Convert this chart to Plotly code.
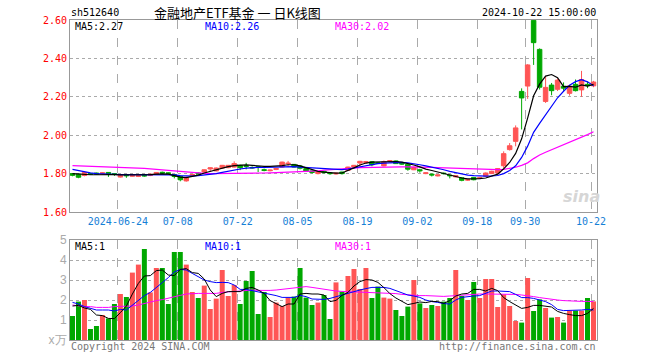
import plotly.graph_objects as go

# ---------------- data ----------------
dates = [
    "2024-06-12", "2024-06-13", "2024-06-14", "2024-06-17", "2024-06-18", "2024-06-19", "2024-06-20",
    "2024-06-21", "2024-06-24", "2024-06-25", "2024-06-26", "2024-06-27", "2024-06-28",
    "2024-07-01", "2024-07-02", "2024-07-03", "2024-07-04", "2024-07-05", "2024-07-08", "2024-07-09",
    "2024-07-10", "2024-07-11", "2024-07-12", "2024-07-15", "2024-07-16", "2024-07-17", "2024-07-18",
    "2024-07-19", "2024-07-22", "2024-07-23", "2024-07-24", "2024-07-25", "2024-07-26", "2024-07-29",
    "2024-07-30", "2024-07-31",
    "2024-08-01", "2024-08-02", "2024-08-05", "2024-08-06", "2024-08-07", "2024-08-08", "2024-08-09",
    "2024-08-12", "2024-08-13", "2024-08-14", "2024-08-15", "2024-08-16", "2024-08-19", "2024-08-20",
    "2024-08-21", "2024-08-22", "2024-08-23", "2024-08-26", "2024-08-27", "2024-08-28", "2024-08-29",
    "2024-08-30",
    "2024-09-02", "2024-09-03", "2024-09-04", "2024-09-05", "2024-09-06", "2024-09-09", "2024-09-10",
    "2024-09-11", "2024-09-12", "2024-09-13", "2024-09-18", "2024-09-19", "2024-09-20", "2024-09-23",
    "2024-09-24", "2024-09-25", "2024-09-26", "2024-09-27", "2024-09-30",
    "2024-10-08", "2024-10-09", "2024-10-10", "2024-10-11", "2024-10-14", "2024-10-15", "2024-10-16",
    "2024-10-17", "2024-10-18", "2024-10-21", "2024-10-22",
]

open_ = [1.800, 1.797, 1.790, 1.800, 1.803, 1.800, 1.806, 1.800, 1.782, 1.793,
         1.786, 1.785, 1.793, 1.790, 1.796, 1.807, 1.804, 1.795, 1.786, 1.762,
         1.790, 1.803, 1.808, 1.824, 1.814, 1.829, 1.831, 1.834, 1.843, 1.840,
         1.832, 1.836, 1.820, 1.815, 1.822, 1.834, 1.852, 1.848, 1.840, 1.826,
         1.814, 1.800, 1.812, 1.803, 1.798, 1.808, 1.817, 1.834, 1.855, 1.858,
         1.862, 1.856, 1.840, 1.864, 1.866, 1.854, 1.849, 1.820, 1.820, 1.800,
         1.797, 1.788, 1.802, 1.792, 1.783, 1.778, 1.766, 1.780, 1.775, 1.786,
         1.800, 1.803, 1.841, 1.925, 1.968, 2.228, 2.256, 2.598, 2.447, 2.176,
         2.261, 2.239, 2.255, 2.218, 2.265, 2.236, 2.265, 2.257]
high = [1.803, 1.799, 1.810, 1.803, 1.805, 1.808, 1.807, 1.801, 1.795, 1.794,
        1.792, 1.792, 1.795, 1.800, 1.808, 1.810, 1.806, 1.796, 1.787, 1.785,
        1.798, 1.806, 1.822, 1.832, 1.832, 1.845, 1.845, 1.864, 1.846, 1.856,
        1.838, 1.838, 1.826, 1.820, 1.828, 1.862, 1.866, 1.850, 1.845, 1.828,
        1.816, 1.812, 1.814, 1.805, 1.806, 1.810, 1.836, 1.845, 1.866, 1.866,
        1.865, 1.860, 1.868, 1.870, 1.868, 1.858, 1.852, 1.836, 1.825, 1.806,
        1.800, 1.795, 1.806, 1.795, 1.792, 1.780, 1.772, 1.782, 1.782, 1.806,
        1.815, 1.828, 1.916, 1.959, 2.051, 2.244, 2.370, 2.600, 2.452, 2.307,
        2.272, 2.296, 2.275, 2.262, 2.290, 2.335, 2.280, 2.283]
low = [1.786, 1.776, 1.786, 1.793, 1.796, 1.797, 1.783, 1.788, 1.780, 1.778,
       1.783, 1.782, 1.784, 1.787, 1.795, 1.800, 1.797, 1.775, 1.760, 1.758,
       1.788, 1.796, 1.805, 1.812, 1.812, 1.826, 1.828, 1.832, 1.818, 1.822,
       1.826, 1.808, 1.812, 1.812, 1.818, 1.832, 1.834, 1.832, 1.822, 1.808,
       1.800, 1.796, 1.800, 1.794, 1.795, 1.795, 1.815, 1.832, 1.834, 1.852,
       1.838, 1.850, 1.838, 1.860, 1.850, 1.846, 1.815, 1.818, 1.805, 1.797,
       1.785, 1.785, 1.795, 1.775, 1.780, 1.760, 1.762, 1.765, 1.772, 1.784,
       1.798, 1.800, 1.829, 1.920, 1.942, 2.030, 2.189, 2.366, 2.238, 2.168,
       2.208, 2.230, 2.232, 2.206, 2.228, 2.200, 2.245, 2.250]
close = [1.791, 1.781, 1.806, 1.797, 1.798, 1.804, 1.797, 1.796, 1.792, 1.789,
         1.790, 1.790, 1.788, 1.797, 1.806, 1.803, 1.801, 1.785, 1.768, 1.779,
         1.796, 1.798, 1.820, 1.830, 1.829, 1.843, 1.843, 1.852, 1.831, 1.838,
         1.830, 1.833, 1.817, 1.818, 1.826, 1.860, 1.854, 1.834, 1.828, 1.812,
         1.806, 1.810, 1.805, 1.800, 1.802, 1.800, 1.834, 1.843, 1.864, 1.862,
         1.846, 1.853, 1.862, 1.867, 1.852, 1.850, 1.823, 1.832, 1.815, 1.804,
         1.793, 1.793, 1.800, 1.789, 1.789, 1.765, 1.769, 1.768, 1.778, 1.803,
         1.812, 1.826, 1.904, 1.945, 2.038, 2.194, 2.366, 2.482, 2.250, 2.249,
         2.232, 2.287, 2.245, 2.256, 2.232, 2.290, 2.258, 2.277]

ma5 = [1.800, 1.797, 1.795, 1.794, 1.794, 1.795, 1.796, 1.795, 1.793, 1.793,
       1.792, 1.792, 1.793, 1.795, 1.797, 1.799, 1.797, 1.790, 1.782, 1.779,
       1.784, 1.792, 1.803, 1.812, 1.822, 1.830, 1.836, 1.842, 1.845, 1.845,
       1.843, 1.840, 1.838, 1.838, 1.839, 1.842, 1.846, 1.846, 1.840, 1.830,
       1.820, 1.812, 1.808, 1.804, 1.802, 1.803, 1.815, 1.830, 1.845, 1.855,
       1.860, 1.861, 1.862, 1.864, 1.863, 1.860, 1.853, 1.845, 1.835, 1.823,
       1.816, 1.808, 1.800, 1.792, 1.784, 1.777, 1.773, 1.772, 1.774, 1.777,
       1.786, 1.797, 1.825, 1.858, 1.905, 1.981, 2.089, 2.205, 2.266, 2.308,
       2.316, 2.300, 2.253, 2.254, 2.250, 2.262, 2.256, 2.265]
ma10 = [1.822, 1.815, 1.808, 1.804, 1.800, 1.798, 1.796, 1.795, 1.795, 1.795,
        1.795, 1.795, 1.794, 1.794, 1.795, 1.796, 1.796, 1.793, 1.789, 1.787,
        1.787, 1.789, 1.792, 1.796, 1.800, 1.806, 1.813, 1.819, 1.824, 1.828,
        1.831, 1.832, 1.832, 1.833, 1.834, 1.836, 1.836, 1.836, 1.834, 1.832,
        1.830, 1.828, 1.826, 1.824, 1.822, 1.821, 1.824, 1.830, 1.836, 1.842,
        1.848, 1.852, 1.855, 1.857, 1.858, 1.858, 1.856, 1.852, 1.846, 1.840,
        1.834, 1.828, 1.820, 1.812, 1.805, 1.798, 1.792, 1.789, 1.787, 1.787,
        1.788, 1.790, 1.800, 1.816, 1.841, 1.884, 1.943, 2.015, 2.062, 2.107,
        2.149, 2.195, 2.229, 2.260, 2.279, 2.289, 2.278, 2.258]
ma30 = [1.842, 1.841, 1.840, 1.839, 1.838, 1.837, 1.836, 1.835, 1.834, 1.833,
        1.831, 1.829, 1.827, 1.825, 1.822, 1.819, 1.816, 1.813, 1.810, 1.807,
        1.804, 1.802, 1.801, 1.800, 1.800, 1.800, 1.800, 1.800, 1.800, 1.801,
        1.801, 1.802, 1.803, 1.804, 1.805, 1.806, 1.806, 1.807, 1.808, 1.809,
        1.811, 1.814, 1.818, 1.821, 1.823, 1.825, 1.827, 1.829, 1.831, 1.832,
        1.833, 1.834, 1.834, 1.835, 1.835, 1.835, 1.835, 1.835, 1.834, 1.833,
        1.832, 1.831, 1.830, 1.829, 1.828, 1.826, 1.824, 1.822, 1.821, 1.821,
        1.821, 1.821, 1.822, 1.826, 1.833, 1.843, 1.856, 1.878, 1.897, 1.911,
        1.924, 1.937, 1.950, 1.962, 1.974, 1.988, 2.003, 2.018]

volume = [1.20, 1.92, 2.00, 0.55, 0.70, 1.25, 1.08, 1.80, 2.30, 2.15,
          3.37, 3.77, 4.55, 2.38, 3.60, 3.60, 1.80, 4.40, 4.40, 3.77,
          2.40, 2.10, 2.72, 1.55, 2.07, 3.50, 2.20, 2.75, 1.80, 2.95,
          3.45, 1.30, 2.40, 1.15, 1.87, 1.70, 2.12, 2.17, 3.60, 2.12,
          1.75, 1.87, 2.25, 1.05, 2.88, 2.42, 3.20, 3.55, 2.55, 3.60,
          2.10, 2.67, 2.12, 2.07, 1.50, 1.20, 1.67, 3.00, 1.83, 1.60,
          1.75, 1.70, 1.92, 2.10, 3.50, 2.20, 2.00, 2.90, 2.10, 3.05,
          3.05, 1.65, 2.28, 1.70, 0.95, 0.87, 3.10, 1.45, 2.03, 1.60,
          1.12, 1.15, 0.87, 1.47, 1.47, 1.47, 2.10, 1.93]
vma5 = [1.70, 1.73, 1.60, 1.53, 1.25, 1.22, 1.08, 1.07, 1.37, 1.70,
        2.30, 2.83, 3.20, 3.22, 3.47, 3.50, 3.25, 3.22, 3.53, 3.57,
        3.37, 3.33, 3.05, 2.50, 2.17, 2.33, 2.42, 2.42, 2.42, 2.58,
        2.63, 2.50, 2.33, 1.97, 1.80, 1.67, 1.80, 1.80, 2.30, 2.33,
        2.30, 2.30, 2.25, 1.92, 1.98, 2.23, 2.38, 2.70, 2.92, 3.02,
        3.00, 2.88, 2.62, 2.32, 2.10, 1.95, 1.77, 1.83, 1.90, 1.87,
        1.93, 1.92, 1.83, 1.97, 2.20, 2.30, 2.33, 2.53, 2.53, 2.45,
        2.58, 2.47, 2.12, 1.92, 1.77, 1.58, 1.63, 1.73, 1.73, 1.70,
        1.65, 1.43, 1.33, 1.27, 1.22, 1.22, 1.33, 1.58]
vma10 = [1.88, 1.80, 1.67, 1.57, 1.50, 1.50, 1.50, 1.45, 1.53, 1.50,
         1.75, 2.00, 2.22, 2.38, 2.65, 2.87, 3.12, 3.40, 3.53, 3.50,
         3.33, 3.17, 3.00, 2.92, 2.87, 2.88, 2.87, 2.75, 2.53, 2.53,
         2.47, 2.40, 2.35, 2.28, 2.22, 2.13, 2.13, 2.13, 2.23, 2.17,
         2.05, 2.03, 2.03, 2.08, 2.17, 2.23, 2.33, 2.42, 2.50, 2.57,
         2.63, 2.63, 2.63, 2.58, 2.47, 2.33, 2.25, 2.20, 2.13, 2.00,
         1.92, 1.88, 1.82, 1.80, 2.00, 2.13, 2.18, 2.20, 2.22, 2.33,
         2.45, 2.45, 2.45, 2.42, 2.28, 2.12, 2.12, 2.08, 2.00, 1.92,
         1.77, 1.53, 1.47, 1.47, 1.47, 1.50, 1.53, 1.50]
vma30 = [1.75, 1.70, 1.67, 1.67, 1.63, 1.63, 1.63, 1.67, 1.67, 1.68,
         1.70, 1.75, 1.83, 1.90, 1.97, 2.02, 2.08, 2.17, 2.23, 2.30,
         2.33, 2.33, 2.33, 2.33, 2.33, 2.38, 2.42, 2.43, 2.45, 2.47,
         2.50, 2.48, 2.47, 2.48, 2.50, 2.53, 2.57, 2.62, 2.65, 2.67,
         2.63, 2.58, 2.53, 2.47, 2.45, 2.43, 2.42, 2.40, 2.38, 2.38,
         2.37, 2.37, 2.35, 2.33, 2.32, 2.28, 2.25, 2.23, 2.22, 2.22,
         2.20, 2.18, 2.18, 2.20, 2.22, 2.23, 2.27, 2.30, 2.30, 2.30,
         2.30, 2.30, 2.30, 2.30, 2.28, 2.25, 2.22, 2.17, 2.12, 2.07,
         2.03, 2.00, 1.97, 1.95, 1.95, 1.93, 1.93, 1.92]

tick_dates = ["2024-06-24", "2024-07-08", "2024-07-22", "2024-08-05", "2024-08-19",
              "2024-09-02", "2024-09-18", "2024-09-30", "2024-10-22"]
tick_labels = ["2024-06-24", "07-08", "07-22", "08-05", "08-19", "09-02", "09-18", "09-30", "10-22"]
price_ticks = [1.60, 1.80, 2.00, 2.20, 2.40, 2.60]
vol_ticks = [0, 1, 2, 3, 4, 5]
vol_tick_labels = ["x万", "1", "2", "3", "4", "5"]

# ---------------- styling ----------------
RED = "#ff5555"
GREEN = "#00a800"
GRID = "#aaaaaa"
FRAME = "#999999"
MONO = "DejaVu Sans Mono, Liberation Mono, monospace"
OFF = 5.0 / 12.0  # gridline sits at the left edge of a bar slot

xs = list(range(len(dates)))
tickpos = [dates.index(d) - OFF for d in tick_dates]
vol_colors = [RED if c >= o else GREEN for o, c in zip(open_, close)]

fig = go.Figure()
fig.add_trace(go.Candlestick(
    x=xs, open=open_, high=high, low=low, close=close,
    increasing=dict(line=dict(color=RED, width=1), fillcolor=RED),
    decreasing=dict(line=dict(color=GREEN, width=1), fillcolor=GREEN),
    whiskerwidth=0, hoverinfo="skip", xaxis="x", yaxis="y"))
for arr, col in [(ma30, "#ff00ff"), (ma10, "#0000ff"), (ma5, "#000000")]:
    fig.add_trace(go.Scatter(x=xs, y=arr, mode="lines", line=dict(color=col, width=1.2),
                             hoverinfo="skip", xaxis="x", yaxis="y"))

fig.add_trace(go.Bar(x=xs, y=volume, marker=dict(color=vol_colors, line=dict(width=0)),
                     hoverinfo="skip", xaxis="x2", yaxis="y2"))
for arr, col in [(vma30, "#ff00ff"), (vma10, "#0000ff"), (vma5, "#000000")]:
    fig.add_trace(go.Scatter(x=xs, y=arr, mode="lines", line=dict(color=col, width=1),
                             hoverinfo="skip", xaxis="x2", yaxis="y2"))

xcommon = dict(range=[-OFF, len(dates) - OFF], tickvals=tickpos, showgrid=True,
               gridcolor=GRID, griddash="dash", gridwidth=1, zeroline=False,
               showline=True, mirror=True, linecolor=FRAME, linewidth=1, ticks="")

fig.update_layout(
    width=660, height=360,
    margin=dict(l=70, r=63, t=20, b=20),
    paper_bgcolor="white", plot_bgcolor="white",
    showlegend=False, bargap=1.0 / 6.0, boxgap=0.25, boxgroupgap=0,
    xaxis=dict(domain=[0, 1], anchor="y", ticktext=tick_labels,
               tickfont=dict(family=MONO, size=10, color="#1680d6"),
               rangeslider=dict(visible=False), **xcommon),
    yaxis=dict(domain=[0.4, 1.0], anchor="x", range=[1.6, 2.6], tickvals=price_ticks,
               ticktext=["%.2f" % v for v in price_ticks],
               tickfont=dict(family=MONO, size=10, color="#ff0000"),
               showgrid=True, gridcolor=GRID, griddash="dot", zeroline=False,
               showline=True, mirror=True, linecolor=FRAME, linewidth=1, ticks=""),
    xaxis2=dict(domain=[0, 1], anchor="y2", matches="x", showticklabels=False, **xcommon),
    yaxis2=dict(domain=[0.0, 0.3125], anchor="x2", range=[0, 5], tickvals=vol_ticks,
                ticktext=vol_tick_labels,
                tickfont=dict(family="Liberation Sans, Arial", size=12, color="#aaaaaa"),
                showgrid=True, gridcolor=GRID, griddash="dot", zeroline=False,
                showline=True, mirror=True, linecolor=FRAME, linewidth=1, ticks=""),
)


def px(x):
    return (x - 70) / 527.0


def py(y):
    return (340 - y) / 320.0


def label(text, x, y, color="#000000", anchor="left", size=10, family=MONO, **kw):
    fig.add_annotation(text=text, x=px(x), y=py(y), xref="paper", yref="paper",
                       xanchor=anchor, yanchor="middle", showarrow=False,
                       font=dict(family=family, size=size, color=color, **kw), borderpad=0)


label("sh512640", 70, 13)
label("金融地产ETF基金 一 日K线图", 237, 13, anchor="center", size=13,
      family="Noto Sans CJK SC, sans-serif")
label("2024-10-22 15:00:00", 597, 13, anchor="right")
label("MA5:2.27", 74, 26)
label("MA10:2.26", 204, 26, color="#0000ff")
label("MA30:2.02", 334, 26, color="#ff00ff")
label("MA5:1", 74, 246)
label("MA10:1", 204, 246, color="#0000ff")
label("MA30:1", 334, 246, color="#ff00ff")
label("Copyright 2024 SINA.COM", 70, 346, color="#777777")
label("http://finance.sina.com.cn", 597, 346, color="#777777", anchor="right")
label("sina", 581, 196, color="#d6d6d6", anchor="center", size=16,
      family="DejaVu Sans, sans-serif", style="italic", weight="bold")

fig.write_html("out.html", config={"displayModeBar": False},
               post_script="document.body.style.margin='0px';")
